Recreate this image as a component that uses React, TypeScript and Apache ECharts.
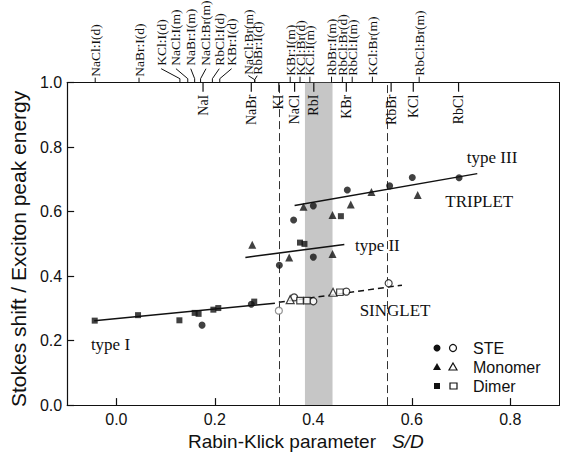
import React, { useEffect, useRef } from "react";
import * as echarts from "echarts";

// ---------- data ----------
const xTicks = [0, 0.2, 0.4, 0.6, 0.8];

// triplet (filled) markers
const steFilled = [
  [0.174, 0.248], [0.274, 0.313], [0.331, 0.434], [0.36, 0.574], [0.4, 0.618],
  [0.4, 0.459], [0.469, 0.667], [0.555, 0.68], [0.601, 0.706], [0.696, 0.705],
];
const monomerFilled = [
  [0.276, 0.497], [0.351, 0.458], [0.38, 0.615], [0.439, 0.59], [0.439, 0.469],
  [0.476, 0.622], [0.518, 0.661], [0.612, 0.652],
];
const dimerFilled = [
  [-0.044, 0.262], [0.044, 0.279], [0.128, 0.263], [0.159, 0.286], [0.167, 0.283],
  [0.197, 0.296], [0.207, 0.301], [0.28, 0.321], [0.373, 0.504], [0.382, 0.5], [0.456, 0.586],
];
// singlet (open) markers
const steOpenGray = [[0.33, 0.293]];
const steOpen = [[0.361, 0.334], [0.4, 0.322], [0.467, 0.352], [0.553, 0.378]];
const monomerOpen = [[0.353, 0.327], [0.44, 0.35]];
const dimerOpen = [[0.373, 0.324], [0.387, 0.324], [0.454, 0.35]];

// fitted lines
const typeILine = [[-0.045, 0.262], [0.322, 0.316]];
const singletLine = [[0.33, 0.319], [0.58, 0.372]];
const typeIILine = [[0.262, 0.458], [0.463, 0.498]];
const typeIIILine = [[0.362, 0.619], [0.733, 0.718]];

const dashedGuides = [0.331, 0.553];
const rbIBand = [0.383, 0.439];

// impurity-system labels above the top axis
const topLabelNames = [
  "NaCl:I(d)", "NaBr:I(d)", "KCl:I(d)", "NaCl:I(m)", "NaBr:I(m)", "NaCl:Br(m)",
  "RbCl:I(d)", "KBr:I(d)", "NaCl:Br(m)", "RbBr:I(d)", "KBr:I(m)", "KCl:Br(d)",
  "KCl:I(m)", "RbBr:I(m)", "RbCl:Br(d)", "RbCl:I(m)", "KCl:Br(m)", "RbCl:Br(m)",
];
const topLabelTickX = [
  -0.043, 0.046, 0.129, 0.145, 0.159, 0.171, 0.195, 0.21, 0.281, 0.281, 0.353, 0.373,
  0.393, 0.437, 0.459, 0.479, 0.52, 0.615,
];
const topLabelTextX = [
  -0.043, 0.046, 0.091, 0.121, 0.151, 0.182, 0.209, 0.234, 0.268, 0.286, 0.353, 0.373,
  0.393, 0.437, 0.459, 0.479, 0.52, 0.615,
];
const topLabelLift = [6, 6, 17, 17, 17, 17, 17, 17, 8, 8, 7, 7, 7, 7, 7, 7, 7, 7];

// host crystals below the top axis
const hostNames = ["NaI", "NaBr", "KI", "NaCl", "RbI", "KBr", "RbBr", "KCl", "RbCl"];
const hostX = [0.176, 0.274, 0.33, 0.362, 0.401, 0.467, 0.558, 0.603, 0.695];

// in-plot notes
const noteTexts = ["type I", "type II", "type III", "TRIPLET", "SINGLET"];
const noteX = [-0.012, 0.53, 0.763, 0.737, 0.566];
const noteY = [0.188, 0.494, 0.767, 0.631, 0.292];

const legendNames = ["STE", "Monomer", "Dimer"];

// ---------- chart ----------
const SANS = '"Liberation Sans", Arial, sans-serif';
const SERIF = '"Liberation Serif", "Times New Roman", serif';
const INK = "#111";

export default function App() {
  const ref = useRef<HTMLDivElement>(null);

  useEffect(() => {
    if (!ref.current) return;
    const chart = echarts.init(ref.current, undefined, { renderer: "svg" });

    const marker = (data: number[][], symbol: string, size: number, filled: boolean, border = INK) => ({
      type: "scatter",
      data,
      symbol,
      symbolSize: size,
      z: 5,
      silent: true,
      itemStyle: filled
        ? { color: INK }
        : { color: "#fff", borderColor: border, borderWidth: 1.2 },
    });
    const fitLine = (data: number[][], dashed: boolean) => ({
      type: "line",
      data,
      symbol: "none",
      z: 3,
      silent: true,
      lineStyle: { color: INK, width: 1.5, type: dashed ? [6, 4] : "solid" },
    });

    const legendRowsY = [348, 367, 386];
    const legendGraphics: any[] = [];
    legendGraphics.push(
      { type: "circle", shape: { cx: 437, cy: legendRowsY[0], r: 3.5 }, style: { fill: INK } },
      { type: "circle", shape: { cx: 453, cy: legendRowsY[0], r: 3.5 }, style: { fill: "#fff", stroke: INK, lineWidth: 1.2 } },
      {
        type: "polygon",
        shape: { points: [[437, legendRowsY[1] - 4], [441, legendRowsY[1] + 3], [433, legendRowsY[1] + 3]] },
        style: { fill: INK },
      },
      {
        type: "polygon",
        shape: { points: [[453, legendRowsY[1] - 4], [457, legendRowsY[1] + 3], [449, legendRowsY[1] + 3]] },
        style: { fill: "#fff", stroke: INK, lineWidth: 1.2 },
      },
      { type: "rect", shape: { x: 434, y: legendRowsY[2] - 3, width: 6, height: 6 }, style: { fill: INK } },
      { type: "rect", shape: { x: 450, y: legendRowsY[2] - 3, width: 7, height: 6 }, style: { fill: "#fff", stroke: INK, lineWidth: 1.2 } }
    );
    legendNames.forEach((n, i) => {
      legendGraphics.push({
        type: "text",
        x: 473,
        y: legendRowsY[i],
        style: { text: n, font: `16px ${SANS}`, fill: INK, align: "left", verticalAlign: "middle", textAlign: "left", textVerticalAlign: "middle" },
      });
    });

    chart.setOption({
      animation: false,
      backgroundColor: "#fff",
      textStyle: { fontFamily: SANS },
      grid: { left: 64, right: 2.5, top: 82.7, bottom: 44.3 },
      xAxis: [
        {
          type: "value",
          min: -0.1,
          max: 0.9,
          position: "bottom",
          name: "{a|Rabin-Klick parameter}{b|S/D}",
          nameLocation: "middle",
          nameGap: 26,
          nameTextStyle: {
            padding: [0, 15, 0, 0],
            rich: {
              a: { fontSize: 19, color: INK, fontFamily: SANS },
              b: { fontSize: 19, color: INK, fontFamily: SANS, fontStyle: "italic", padding: [0, 0, 0, 16] },
            },
          },
          axisLine: { show: true, onZero: false, lineStyle: { color: INK, width: 1.2 } },
          axisTick: { show: true, inside: true, length: 7, customValues: xTicks, lineStyle: { color: INK, width: 1.2 } },
          axisLabel: {
            customValues: xTicks,
            fontSize: 16,
            color: INK,
            margin: 6,
            formatter: (v: number) => v.toFixed(1),
          },
          splitLine: { show: false },
        },
        {
          type: "value",
          min: -0.1,
          max: 0.9,
          position: "top",
          axisLine: { show: true, onZero: false, lineStyle: { color: INK, width: 1.2 } },
          axisTick: { show: false },
          axisLabel: { show: false },
          splitLine: { show: false },
        },
      ],
      yAxis: [
        {
          type: "value",
          min: 0,
          max: 1,
          interval: 0.2,
          position: "left",
          name: "Stokes shift / Exciton peak energy",
          nameLocation: "middle",
          nameGap: 34,
          nameTextStyle: { fontSize: 21, color: INK, fontFamily: SANS, padding: [0, 10, 0, 0] },
          axisLine: { show: true, onZero: false, lineStyle: { color: INK, width: 1.2 } },
          axisTick: { show: true, inside: true, length: 7, lineStyle: { color: INK, width: 1.2 } },
          axisLabel: { fontSize: 16, color: INK, margin: 5, formatter: (v: number) => v.toFixed(1) },
          splitLine: { show: false },
        },
        {
          type: "value",
          min: 0,
          max: 1,
          position: "right",
          axisLine: { show: true, onZero: false, lineStyle: { color: INK, width: 1 } },
          axisTick: { show: false },
          axisLabel: { show: false },
          splitLine: { show: false },
        },
      ],
      graphic: legendGraphics,
      series: [
        {
          type: "line",
          data: [],
          z: 1,
          silent: true,
          markArea: {
            silent: true,
            itemStyle: { color: "#c6c6c6" },
            data: [[{ xAxis: rbIBand[0], yAxis: 0 }, { xAxis: rbIBand[1], yAxis: 1 }]],
          },
          markLine: {
            silent: true,
            symbol: ["none", "none"],
            label: { show: false },
            lineStyle: { color: "#333", width: 1, type: [8, 4] },
            data: dashedGuides.map((x) => ({ xAxis: x })),
          },
        },
        fitLine(typeILine, false),
        fitLine(singletLine, true),
        fitLine(typeIILine, false),
        fitLine(typeIIILine, false),
        marker(steFilled, "circle", 7, true),
        marker(monomerFilled, "triangle", 8, true),
        marker(dimerFilled, "rect", 6, true),
        marker(steOpenGray, "circle", 7, false, "#777"),
        marker(steOpen, "circle", 7, false),
        marker(monomerOpen, "triangle", 8, false),
        marker(dimerOpen, "rect", 6.5, false),
        {
          type: "custom",
          silent: true,
          clip: false,
          z: 6,
          data: topLabelNames.map((_, i) => [topLabelTickX[i], topLabelTextX[i], topLabelLift[i], i]),
          renderItem: (_p: any, api: any) => {
            const i = api.value(3);
            const [px, py] = api.coord([api.value(0), 1]);
            const lpx = api.coord([api.value(1), 1])[0];
            const lift = api.value(2);
            let pts: number[][];
            if (lift > 12) pts = [[px, py], [px, py - 4], [lpx, py - lift + 3]];
            else if (Math.abs(lpx - px) > 1) pts = [[px, py], [px, py - 3], [lpx, py - lift + 1]];
            else pts = [[px, py], [px, py - lift + 1]];
            return {
              type: "group",
              children: [
                { type: "polyline", shape: { points: pts }, style: { stroke: INK, lineWidth: 1, fill: "none" } },
                {
                  type: "text",
                  x: lpx,
                  y: py - lift,
                  rotation: Math.PI / 2,
                  style: {
                    text: topLabelNames[i],
                    font: `13.5px ${SERIF}`,
                    fill: INK,
                    align: "left",
                    verticalAlign: "middle",
                    textAlign: "left",
                    textVerticalAlign: "middle",
                  },
                },
              ],
            };
          },
        },
        {
          type: "custom",
          silent: true,
          clip: false,
          z: 6,
          data: hostNames.map((_, i) => [hostX[i], 1, i]),
          renderItem: (_p: any, api: any) => {
            const i = api.value(2);
            const [px, py] = api.coord([api.value(0), 1]);
            return {
              type: "group",
              children: [
                { type: "line", shape: { x1: px, y1: py, x2: px, y2: py + 9 }, style: { stroke: INK, lineWidth: 1.2 } },
                {
                  type: "text",
                  x: px,
                  y: py + 12,
                  rotation: Math.PI / 2,
                  style: {
                    text: hostNames[i],
                    font: `14px ${SERIF}`,
                    fill: INK,
                    align: "right",
                    verticalAlign: "middle",
                    textAlign: "right",
                    textVerticalAlign: "middle",
                  },
                },
              ],
            };
          },
        },
        {
          type: "custom",
          silent: true,
          clip: false,
          z: 6,
          data: noteTexts.map((_, i) => [noteX[i], noteY[i], i]),
          renderItem: (_p: any, api: any) => {
            const i = api.value(2);
            const [px, py] = api.coord([api.value(0), api.value(1)]);
            return {
              type: "text",
              x: px,
              y: py,
              style: {
                text: noteTexts[i],
                font: `17px ${SERIF}`,
                fill: INK,
                align: "center",
                verticalAlign: "middle",
                textAlign: "center",
                textVerticalAlign: "middle",
              },
            };
          },
        },
      ],
    });

    return () => chart.dispose();
  }, []);

  return (
    <div
      ref={ref}
      style={{ position: "fixed", left: 0, top: 0, width: 562, height: 456, background: "#fff" }}
    />
  );
}
